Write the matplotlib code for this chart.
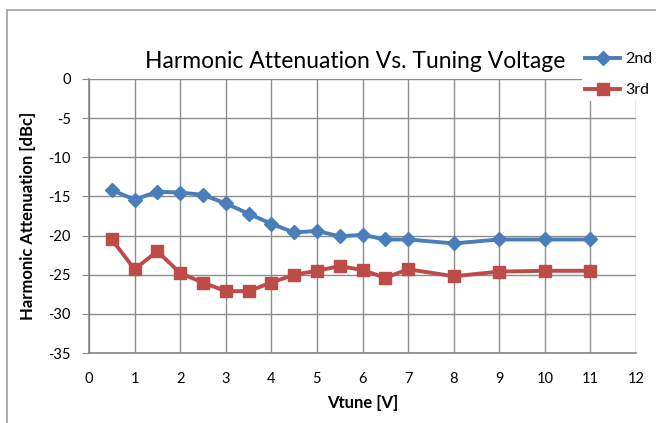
import matplotlib
matplotlib.use("Agg")
import matplotlib.pyplot as plt
from matplotlib.patches import Rectangle

vtune = [0.5, 1, 1.5, 2, 2.5, 3, 3.5, 4, 4.5, 5, 5.5, 6, 6.5, 7, 8, 9, 10, 11]
second = [-14.2, -15.4, -14.4, -14.5, -14.8, -15.9, -17.2, -18.5, -19.6, -19.4,
          -20.1, -19.9, -20.5, -20.5, -21.0, -20.5, -20.5, -20.5]
third = [-20.5, -24.3, -22.0, -24.8, -26.0, -27.1, -27.1, -26.0, -25.0, -24.5,
         -23.9, -24.4, -25.4, -24.3, -25.2, -24.6, -24.5, -24.5]
series_names = ["2nd", "3rd"]
xticks = list(range(0, 13))
yticks = list(range(-35, 1, 5))

plt.rcParams['font.family'] = ['Lato', 'DejaVu Sans']
plt.rcParams['axes.unicode_minus'] = False

W, H = 656, 423
fig = plt.figure(figsize=(W / 100, H / 100), dpi=100)
fig.patches.append(Rectangle((7 / W, -1), 2, 2 - 10 / H, transform=fig.transFigure,
                             fill=False, edgecolor='#a0a0a0', linewidth=1.2))

ax = fig.add_axes([89 / W, 1 - 353 / H, (636 - 89) / W, (353 - 79) / H])
blue = '#4A7EBB'
red = '#BE4B48'
ax.plot(vtune, second, color=blue, lw=2.8, marker='D', ms=7.5, label=series_names[0], zorder=3)
ax.plot(vtune, third, color=red, lw=2.8, marker='s', ms=8.5, label=series_names[1], zorder=3)

ax.set_xlim(0, 12)
ax.set_ylim(-35, 0)
ax.set_xticks(xticks)
ax.set_yticks(yticks)
ax.grid(True, color='#8c8c8c', lw=1.0)
ax.set_axisbelow(True)
for s in ['top', 'right']:
    ax.spines[s].set_visible(False)
for s in ['left', 'bottom']:
    ax.spines[s].set_color('#868686')
    ax.spines[s].set_linewidth(1.2)
ax.tick_params(axis='y', length=5, color='#868686', labelsize=10.5, pad=8)
ax.tick_params(axis='x', length=0, labelsize=10.5, pad=14)

ax.set_xlabel('Vtune [V]', fontsize=12, fontweight='bold', labelpad=6)
ax.set_ylabel('Harmonic Attenuation [dBc]', fontsize=12, fontweight='bold', labelpad=9)
fig.text(355 / W, 1 - 62 / H, 'Harmonic Attenuation Vs. Tuning Voltage', ha='center', va='center',
         fontsize=16.5)

leg = fig.legend(loc='upper left', bbox_to_anchor=(582 / W, 1 - 49 / H), frameon=True,
                 fontsize=11.5, handlelength=2.2, labelspacing=1.05, borderpad=0.2,
                 handletextpad=0.3, borderaxespad=0)
leg.get_frame().set_edgecolor('white')
leg.get_frame().set_linewidth(0)
leg.get_frame().set_alpha(1)

fig.savefig('out.png', dpi=100)
